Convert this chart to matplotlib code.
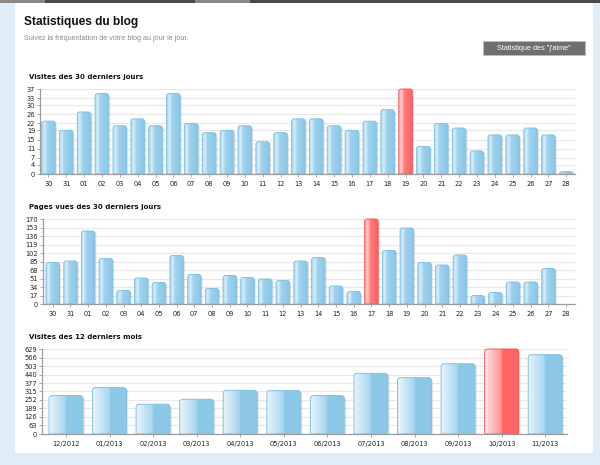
import numpy as np
import matplotlib
matplotlib.use("Agg")
import matplotlib.pyplot as plt
from matplotlib.path import Path
from matplotlib.patches import PathPatch, Rectangle
from matplotlib.colors import LinearSegmentedColormap

# ---------------- data ----------------
days_a = ["30", "31", "01", "02", "03", "04", "05", "06", "07", "08", "09", "10",
          "11", "12", "13", "14", "15", "16", "17", "18", "19", "20", "21", "22",
          "23", "24", "25", "26", "27", "28"]
visits_30 = [23, 19, 27, 35, 21, 24, 21, 35, 22, 18, 19, 21, 14, 18, 24, 24, 21, 19,
             23, 28, 37, 12, 22, 20, 10, 17, 17, 20, 17, 1]
visits_30_ticks = [0, 4, 7, 11, 15, 19, 22, 26, 30, 33, 37]

days_b = ["30", "31", "01", "02", "03", "04", "05", "06", "07", "08", "09", "10",
          "11", "12", "13", "14", "15", "16", "17", "18", "19", "20", "21", "22",
          "23", "24", "25", "26", "27", "28"]
pages_30 = [83, 86, 146, 91, 27, 52, 43, 97, 59, 31, 57, 53, 50, 47, 86, 93, 36, 25,
            170, 107, 152, 83, 78, 98, 17, 23, 44, 44, 71, 0]
pages_30_ticks = [0, 17, 34, 51, 68, 85, 102, 119, 136, 153, 170]

months = ["12/2012", "01/2013", "02/2013", "03/2013", "04/2013", "05/2013",
          "06/2013", "07/2013", "08/2013", "09/2013", "10/2013", "11/2013"]
visits_12 = [284, 343, 220, 257, 323, 321, 284, 449, 417, 520, 629, 587]
visits_12_ticks = [0, 63, 126, 189, 252, 315, 377, 440, 503, 566, 629]

W, H = 600, 465
fig = plt.figure(figsize=(W / 100, H / 100), dpi=100)
fig.patch.set_facecolor("#deedf8")

# page panel
fig.add_artist(Rectangle((15 / W, 1 - 453 / H), (593 - 15) / W, (453 - 3) / H,
                         transform=fig.transFigure, facecolor="white", edgecolor="none", zorder=-10))
fig.add_artist(Rectangle((0, 1 - 3 / H), 1, 3 / H, transform=fig.transFigure,
                         facecolor="#4a4a4a", edgecolor="none", zorder=-9))
for a, b in [(0, 45), (195, 250)]:
    fig.add_artist(Rectangle((a / W, 1 - 3 / H), (b - a) / W, 3 / H, transform=fig.transFigure,
                             facecolor="#8a8a8a", edgecolor="none", zorder=-8))

fig.text(24 / W, 1 - 21.5 / H, "Statistiques du blog", fontsize=8.6, fontweight="bold",
         family="Liberation Sans", va="center", ha="left", color="#111111")
fig.text(24 / W, 1 - 38.5 / H, "Suivez la fréquentation de votre blog au jour le jour.",
         fontsize=5.2, family="Liberation Sans", va="center", ha="left", color="#8a8a8a")
fig.add_artist(Rectangle((483 / W, 1 - 55 / H), (585 - 483) / W, 14 / H,
                         transform=fig.transFigure, facecolor="#6f6f6f", edgecolor="#bdbdbd",
                         lw=0.6, zorder=-5))
fig.text(534 / W, 1 - 48 / H, "Statistique des \"j'aime\"", fontsize=5.3,
         family="Liberation Sans", va="center", ha="center", color="white")


def px_axes(x0, y0, x1, y1):
    return fig.add_axes([x0 / W, 1 - y1 / H, (x1 - x0) / W, (y1 - y0) / H])


cm_blue = LinearSegmentedColormap.from_list(
    "b", [(0, "#a9d8f0"), (0.18, "#d6edf9"), (0.4, "#9ed1ed"), (1, "#88c7e7")])
cm_red = LinearSegmentedColormap.from_list(
    "r", [(0, "#ffa8a8"), (0.18, "#ffc9c9"), (0.4, "#ff7a7a"), (1, "#ff5f5f")])
cm_blue_m = LinearSegmentedColormap.from_list(
    "bm", [(0, "#e8f4fb"), (0.49, "#a6d4ee"), (0.5, "#8cc8e7"), (1, "#8cc8e7")])
cm_red_m = LinearSegmentedColormap.from_list(
    "rm", [(0, "#ffe6e6"), (0.49, "#ff8e8e"), (0.5, "#ff6464"), (1, "#ff6464")])


def bar_path(x, w, h, rx, ry):
    ry = min(ry, h)
    verts = [(x, 0), (x, h - ry), (x, h), (x + rx, h), (x + w - rx, h), (x + w, h),
             (x + w, h - ry), (x + w, 0), (x, 0)]
    codes = [Path.MOVETO, Path.LINETO, Path.CURVE3, Path.CURVE3, Path.LINETO,
             Path.CURVE3, Path.CURVE3, Path.LINETO, Path.CLOSEPOLY]
    return Path(verts, codes)


def chart(box, title, labels, values, ticks, xlim, width, cmaps, edge_cols, rad=2.5):
    x0, y0, x1, y1 = box
    ax = px_axes(*box)
    ax.set_facecolor("none")
    xs = np.arange(len(values))
    ax.set_xlim(*xlim)
    ax.set_ylim(0, ticks[-1])
    wpx = x1 - x0
    hpx = y1 - y0
    dx = (xlim[1] - xlim[0]) / wpx
    dy = ticks[-1] / hpx
    hi = int(np.argmax(values))
    grad = np.linspace(0, 1, 64).reshape(1, -1)
    for i, (xc, v) in enumerate(zip(xs, values)):
        if v <= 0:
            continue
        left = xc - width / 2
        cmap = cmaps[1] if i == hi else cmaps[0]
        ec = edge_cols[1] if i == hi else edge_cols[0]
        # shadow
        sh = PathPatch(bar_path(left + 1.6 * dx, width, v - 1.0 * dy if v > dy else v, rad * dx, rad * dy),
                       facecolor="black", alpha=0.10, edgecolor="none", zorder=2, clip_on=False)
        ax.add_patch(sh)
        p = bar_path(left, width, v, rad * dx, rad * dy)
        patch = PathPatch(p, facecolor="none", edgecolor=ec, lw=0.7, zorder=4, clip_on=False)
        ax.add_patch(patch)
        im = ax.imshow(grad, extent=[left, left + width, 0, v], aspect="auto", cmap=cmap,
                       zorder=3, interpolation="bilinear")
        im.set_clip_path(patch)
    ax.set_xlim(*xlim)
    ax.set_ylim(0, ticks[-1])
    ax.set_xticks(xs)
    ax.set_xticklabels(labels)
    ax.set_yticks(ticks)
    ax.set_yticklabels([str(t) for t in ticks])
    ax.yaxis.grid(True, color="#e8e8e8", lw=0.8)
    ax.set_axisbelow(True)
    for s in ["top", "right"]:
        ax.spines[s].set_visible(False)
    for s in ["left", "bottom"]:
        ax.spines[s].set_color("#9c9c9c")
        ax.spines[s].set_linewidth(0.9)
        ax.spines[s].set_zorder(5)
    ax.tick_params(axis="both", length=2, width=0.6, color="#9c9c9c", labelsize=4.8,
                   labelcolor="#222222", pad=1.5)
    ax.tick_params(axis="x", pad=2.8)
    fig.text(29 / W, 1 - (y0 - 12) / H, title, fontsize=5.0, fontweight="bold",
             family="DejaVu Sans", va="center", ha="left", color="#111111")
    return ax


chart((40, 89, 575, 174), "Visites des 30 derniers jours", days_a, visits_30,
      visits_30_ticks, (-0.47, 29.49), 0.76, (cm_blue, cm_red), ("#82c2e4", "#f25a5a"))
chart((43, 219, 575, 304), "Pages vues des 30 derniers jours", days_b, pages_30,
      pages_30_ticks, (-0.55, 29.5), 0.76, (cm_blue, cm_red), ("#82c2e4", "#f25a5a"))
chart((42, 349, 567, 434), "Visites des 12 derniers mois", months, visits_12,
      visits_12_ticks, (-0.55, 11.5), 0.78, (cm_blue_m, cm_red_m), ("#82c2e4", "#f25a5a"), rad=3)

fig.savefig("out.png", dpi=100, facecolor=fig.get_facecolor())
